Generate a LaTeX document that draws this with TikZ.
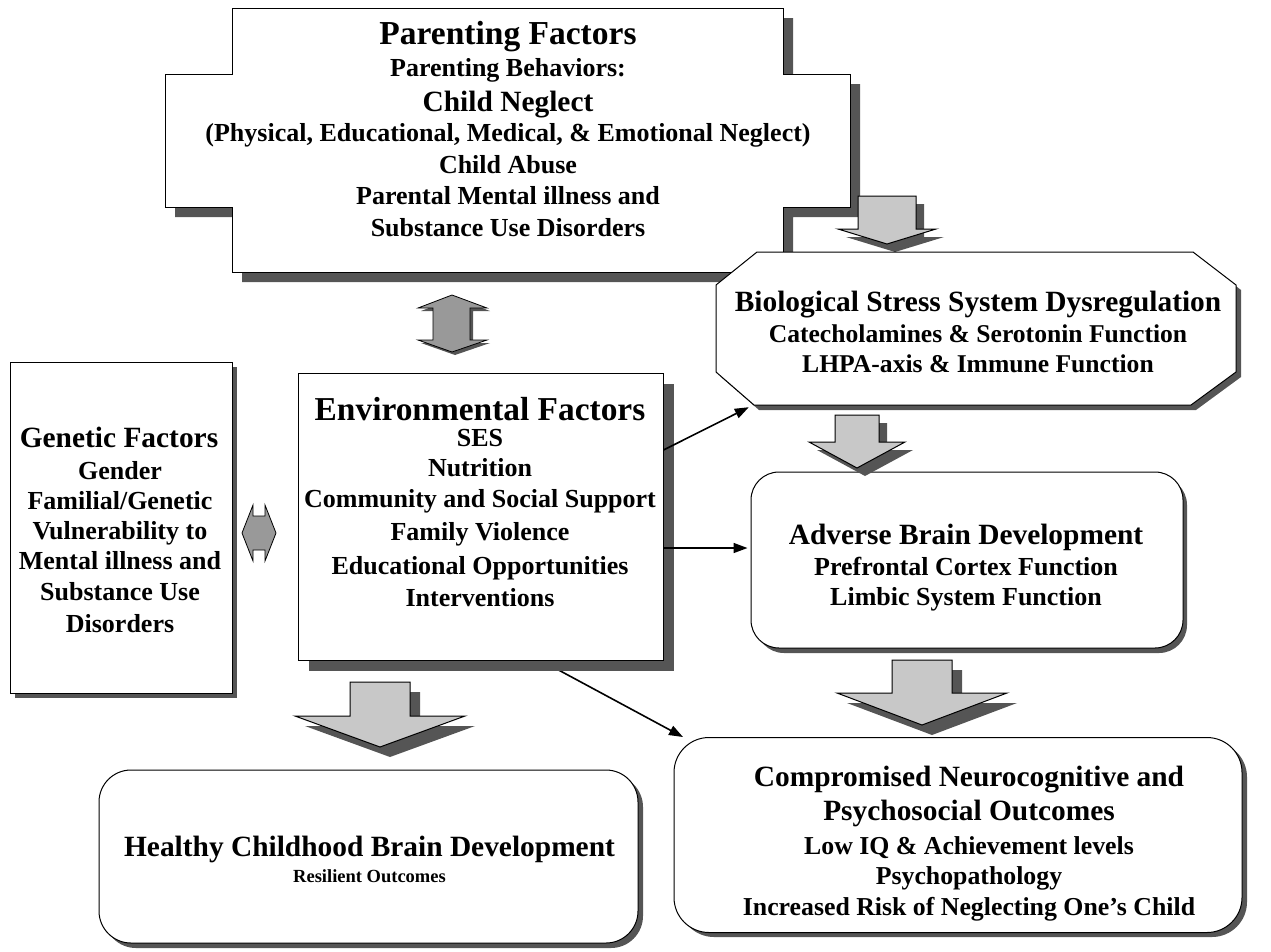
\documentclass[tikz,border=0pt]{standalone}
\usepackage{fontspec}
\setmainfont{Liberation Serif}
\usetikzlibrary{arrows.meta}
\definecolor{shadowgray}{HTML}{555555}
\definecolor{lightfill}{HTML}{C8C8C8}
\definecolor{midfill}{HTML}{999999}
\newcommand\fs[1]{\fontsize{#1}{#1}\selectfont}
\newcommand\BlockDown[7]{% cx, top, shaft half, head top, head half, tip, shadow
  \fill[shadowgray] ({#1-#3+#7},{#2+#7}) -- ({#1+#3+#7},{#2+#7}) -- ({#1+#3+#7},{#4+#7}) -- ({#1+#5+#7},{#4+#7}) -- ({#1+#7},{#6+#7}) -- ({#1-#5+#7},{#4+#7}) -- ({#1-#3+#7},{#4+#7}) -- cycle;
  \draw[fill=lightfill,line width=1pt] ({#1-#3},#2) -- ({#1+#3},#2) -- ({#1+#3},#4) -- ({#1+#5},#4) -- (#1,#6) -- ({#1-#5},#4) -- ({#1-#3},#4) -- cycle;}
\tikzset{
  boxline/.style={draw=black,line width=1pt,fill=white},
  ln/.style={anchor=base,inner sep=0pt,font=\bfseries\fs{26}},
  big/.style={anchor=base,inner sep=0pt,font=\bfseries\fs{29.4}},
  thinarrow/.style={line width=1.6pt,-{Triangle[length=14pt,width=10pt]}},
  dblarrow/.style={draw=black,line width=0.8pt,fill=midfill}
}
\begin{document}
\begin{tikzpicture}[x=1pt,y=-1pt]
\useasboundingbox (0,0) rectangle (1271,951);

% ---------- Parenting factors (stepped box) ----------
\fill[shadowgray] (242,18) -- (793,18) -- (793,84) -- (860,84) -- (860,217) -- (793,217) -- (793,282) -- (242,282) -- (242,217) -- (175,217) -- (175,84) -- (242,84) -- cycle;
\BlockDown{887}{196}{29}{229}{49}{244}{8}
\draw[boxline] (232,8) -- (783,8) -- (783,74) -- (850,74) -- (850,207) -- (783,207) -- (783,272) -- (232,272) -- (232,207) -- (165,207) -- (165,74) -- (232,74) -- cycle;
\node[minimum width=618pt,minimum height=264pt,inner sep=0pt] (par) at (507.5,140) {};
\node[big,font=\bfseries\fs{33.5}] (p1) at (508,44) {Parenting Factors};
\node[ln] (p2) at (508,76) {Parenting Behaviors:};
\node[big] (p3) at (508,111) {Child Neglect};
\node[ln] (p4) at (508,141) {(Physical, Educational, Medical, \& Emotional Neglect)};
\node[ln] (p5) at (508,173) {Child Abuse};
\node[ln] (p6) at (508,204) {Parental Mental illness and};
\node[ln] (p7) at (508,236) {Substance Use Disorders};

% ---------- Biological stress (octagon) ----------
\fill[shadowgray] (762,257) -- (1198,257) -- (1241,290) -- (1241,377) -- (1196,410) -- (759,410) -- (721,377) -- (721,290) -- cycle;
\draw[boxline] (757,252) -- (1193,252) -- (1236,285) -- (1236,372) -- (1191,405) -- (754,405) -- (716,372) -- (716,285) -- cycle;
\node[minimum width=520pt,minimum height=153pt,inner sep=0pt] (bio) at (976,328.5) {};
\node[big] (b1) at (978,311) {Biological Stress System Dysregulation};
\node[ln,font=\bfseries\fs{25.6}] (b2) at (978,342) {Catecholamines \& Serotonin Function};
\node[ln,font=\bfseries\fs{25.6}] (b3) at (978,372) {LHPA-axis \& Immune Function};

% ---------- Genetic factors ----------
\fill[shadowgray] (15,367) rectangle (237,698);
\node[boxline,minimum width=222pt,minimum height=331pt,inner sep=0pt] (gen) at (121,527.5) {};
\node[big] (g1) at (119,447) {Genetic Factors};
\node[ln] (g2) at (120,479) {Gender};
\node[ln] (g3) at (120,509) {Familial/Genetic};
\node[ln] (g4) at (120,539) {Vulnerability to};
\node[ln] (g5) at (120,569) {Mental illness and};
\node[ln] (g6) at (120,600) {Substance Use};
\node[ln] (g7) at (120,632) {Disorders};

% ---------- Environmental factors ----------
\coordinate (envlow) at (540,660);
\coordinate (compin) at (683,737);
\draw[thinarrow] (envlow) -- (compin);
\fill[shadowgray] (309,384) rectangle (674,671);
\node[boxline,minimum width=365pt,minimum height=287pt,inner sep=0pt] (env) at (480.5,516.5) {};
\node[big,font=\bfseries\fs{33.4}] (e1) at (480,420) {Environmental Factors};
\node[ln] (e2) at (480,446) {SES};
\node[ln] (e3) at (480,476) {Nutrition};
\node[ln] (e4) at (480,507) {Community and Social Support};
\node[ln] (e5) at (480,540) {Family Violence};
\node[ln] (e6) at (480,574) {Educational Opportunities};
\node[ln] (e7) at (480,606) {Interventions};

% ---------- Adverse brain development ----------
\fill[shadowgray,rounded corners=28pt] (756,477) rectangle (1187,653);
\node[boxline,rounded corners=28pt,minimum width=432pt,minimum height=176pt,inner sep=0pt] (adv) at (967,560) {};
\node[big] (a1) at (966,544) {Adverse Brain Development};
\node[ln] (a2) at (966,575) {Prefrontal Cortex Function};
\node[ln] (a3) at (966,605) {Limbic System Function};

% ---------- Compromised outcomes ----------
\fill[shadowgray,rounded corners=35pt] (679,742) rectangle (1247,937);
\node[boxline,rounded corners=35pt,minimum width=568pt,minimum height=195pt,inner sep=0pt] (comp) at (958,835) {};
\node[big] (c1) at (969,786) {Compromised Neurocognitive and};
\node[big] (c2) at (969,820) {Psychosocial Outcomes};
\node[ln,font=\bfseries\fs{25.8}] (c3) at (969,854) {Low IQ \& Achievement levels};
\node[ln,font=\bfseries\fs{25.8}] (c4) at (969,884) {Psychopathology};
\node[ln,font=\bfseries\fs{25.8}] (c5) at (969,915) {Increased Risk of Neglecting One's Child};

% ---------- Healthy development ----------
\fill[shadowgray,rounded corners=32pt] (104,775) rectangle (643,948);
\node[boxline,rounded corners=32pt,minimum width=539pt,minimum height=173pt,inner sep=0pt] (hea) at (368.5,856.5) {};
\node[big] (h1) at (369.5,856) {Healthy Childhood Brain Development};
\node[ln,font=\bfseries\fs{18.5}] (h2) at (369.5,882) {Resilient Outcomes};

% ---------- Block arrows ----------
\BlockDown{857}{415}{22}{442}{48}{468}{8}
\BlockDown{922}{660}{30}{693}{85}{725}{10}
\BlockDown{380}{682}{30}{716}{85}{747}{10}

% ---------- Double arrows ----------
\fill[shadowgray] (455,298) -- (490,311) -- (473,311) -- (473,343) -- (490,343) -- (455,355) -- (421,343) -- (436,343) -- (436,311) -- (421,311) -- cycle;
\draw[dblarrow] (452,295) -- (487,308) -- (470,308) -- (470,340) -- (487,340) -- (452,352) -- (418,340) -- (433,340) -- (433,308) -- (418,308) -- cycle;
\draw[dblarrow] (242,533) -- (253,505) -- (253,516) -- (265,516) -- (265,505) -- (276,533) -- (265,561) -- (265,550) -- (253,550) -- (253,561) -- cycle;

% ---------- Thin arrows ----------
\draw[thinarrow] ([yshift=66.5pt]env.east) -- ([xshift=33pt,yshift=-2pt]bio.south west);
\draw[thinarrow] ([yshift=-31.5pt]env.east) -- ([yshift=12pt,xshift=-3pt]adv.west);
\end{tikzpicture}
\end{document}
